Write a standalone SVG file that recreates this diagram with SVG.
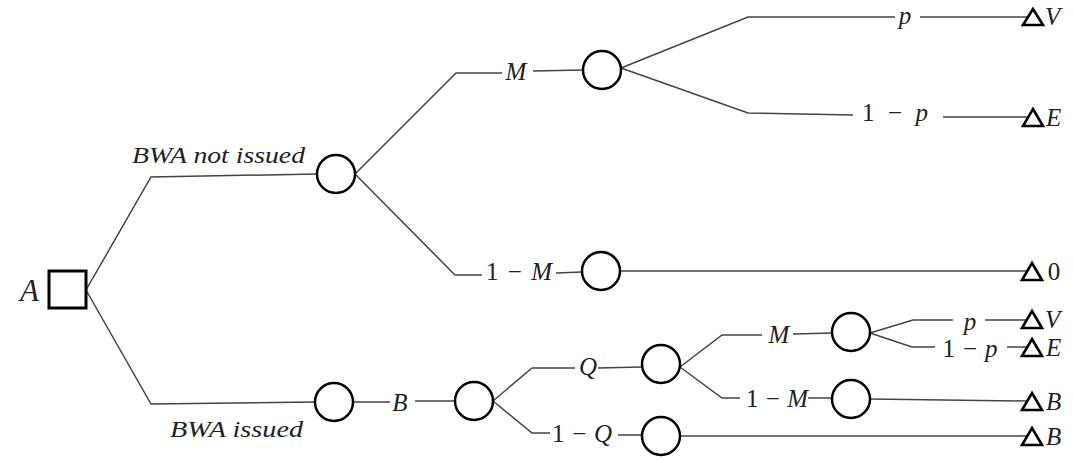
<svg xmlns="http://www.w3.org/2000/svg" width="1073" height="460" viewBox="0 0 1073 460">
<style>
.bg{fill:#fff}
.c{fill:#fff;stroke:#000;stroke-width:2.5}
.sq{fill:#fff;stroke:#000;stroke-width:3}
.t{fill:none;stroke:#000;stroke-width:2.6;stroke-linejoin:miter}
.ln{fill:none;stroke:#444;stroke-width:1.5}
.lb{font-family:"Liberation Serif",serif;font-style:italic;font-size:24px;fill:#222}
.m{font-family:"Liberation Serif",serif;font-size:25px;fill:#222;text-anchor:middle}
.mi{font-style:italic}
.lt{font-family:"Liberation Serif",serif;font-style:italic;font-size:25px;fill:#222}
</style>
<rect class="bg" x="0" y="0" width="1073" height="460"/>
<g id="connectors">
<path class="ln" d="M86,290 L151,177 L317,174"/>
<path class="ln" d="M86,290 L151,404 L315,402"/>
<path class="ln" d="M355,174 L456,73 L502,73 M533,71 L583,70"/>
<path class="ln" d="M355,174 L455,275 L482,275 M556,273 L582,272"/>
<path class="ln" d="M621,68 L748,17 L895,17 M920,17 L1027,17"/>
<path class="ln" d="M621,68 L748,113 L853,115 M943,117 L1027,117"/>
<path class="ln" d="M620,271 L1027,271"/>
<path class="ln" d="M353,402 L390,402 M415,401 L455,401"/>
<path class="ln" d="M493,401 L532,368 L575,368 M598,368 L642,367"/>
<path class="ln" d="M493,401 L532,433 L550,433 M618,435 L642,435"/>
<path class="ln" d="M680,367 L722,335 L762,335 M793,334 L832,333"/>
<path class="ln" d="M680,367 L722,398 L740,398 M808,398 L832,398"/>
<path class="ln" d="M680,436 L1027,436"/>
<path class="ln" d="M870,333 L913,320 L953,320 M985,320 L1027,320"/>
<path class="ln" d="M870,333 L912,347 L935,347 M1007,347 L1027,347"/>
<path class="ln" d="M870,399 L1027,401"/>
</g>
<g id="edge-labels">
<text class="lb" x="132" y="163" textLength="173" lengthAdjust="spacingAndGlyphs">BWA not issued</text>
<text class="lb" x="170" y="437" textLength="133" lengthAdjust="spacingAndGlyphs">BWA issued</text>
<text class="m mi" x="516" y="80">M</text>
<text class="m" x="519" y="280" textLength="66">1 − <tspan class="mi">M</tspan></text>
<text class="m mi" x="905" y="24">p</text>
<text class="m" x="895" y="121" textLength="66">1 − <tspan class="mi">p</tspan></text>
<text class="m mi" x="400" y="411">B</text>
<text class="m mi" x="588" y="375">Q</text>
<text class="m" x="582" y="442" textLength="60">1 − <tspan class="mi">Q</tspan></text>
<text class="m mi" x="779" y="343">M</text>
<text class="m" x="777" y="407" textLength="62">1 − <tspan class="mi">M</tspan></text>
<text class="m mi" x="970" y="330">p</text>
<text class="m" x="970" y="357" textLength="55">1 − <tspan class="mi">p</tspan></text>
</g>
<g id="node-A">
<rect class="sq" x="49" y="271" width="37" height="37"/>
<text class="lt" x="20" y="301" style="font-size:31px">A</text>
</g>
<g id="node-c1"><circle class="c" cx="336" cy="174" r="19"/></g>
<g id="node-c2"><circle class="c" cx="602" cy="70" r="19"/></g>
<g id="node-c3"><circle class="c" cx="601" cy="271" r="19"/></g>
<g id="node-c4"><circle class="c" cx="334" cy="402" r="19"/></g>
<g id="node-c5"><circle class="c" cx="474" cy="401" r="19"/></g>
<g id="node-c6"><circle class="c" cx="661" cy="364" r="19"/></g>
<g id="node-c7"><circle class="c" cx="661" cy="436" r="19"/></g>
<g id="node-c8"><circle class="c" cx="851" cy="332" r="19"/></g>
<g id="node-c9"><circle class="c" cx="851" cy="399" r="19"/></g>
<g id="end-1"><polygon class="t" points="1033,9 1043,25 1023,25"/><text class="lt" x="1045" y="25">V</text></g>
<g id="end-2"><polygon class="t" points="1033,109 1043,126 1023,126"/><text class="lt" x="1046" y="126">E</text></g>
<g id="end-3"><polygon class="t" points="1032,263 1042,280 1022,280"/><text class="m" x="1054" y="280">0</text></g>
<g id="end-4"><polygon class="t" points="1032,311 1042,328 1022,328"/><text class="lt" x="1045" y="328">V</text></g>
<g id="end-5"><polygon class="t" points="1032,339 1042,356 1022,356"/><text class="lt" x="1046" y="356">E</text></g>
<g id="end-6"><polygon class="t" points="1032,393 1042,410 1022,410"/><text class="lt" x="1046" y="410">B</text></g>
<g id="end-7"><polygon class="t" points="1032,428 1042,445 1022,445"/><text class="lt" x="1046" y="445">B</text></g>
</svg>
